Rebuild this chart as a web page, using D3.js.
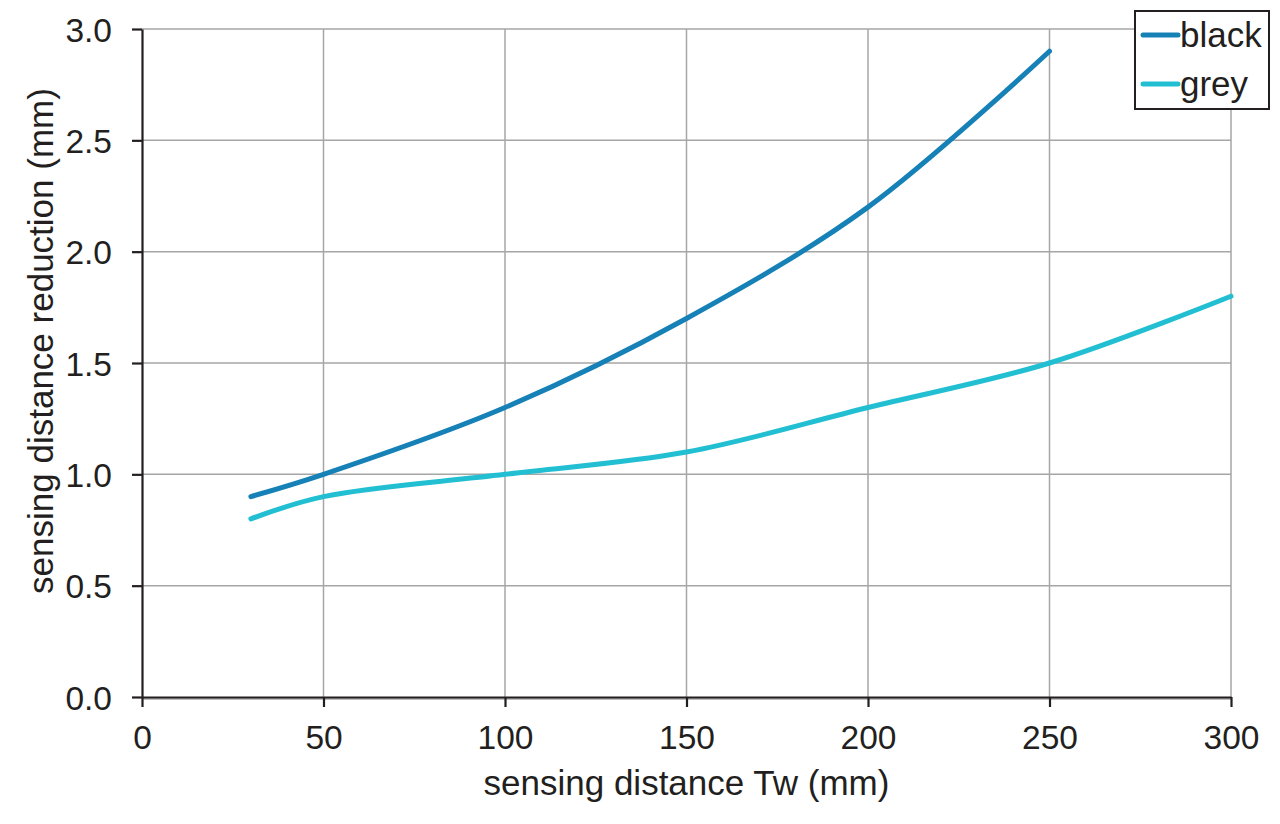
<!DOCTYPE html>
<html><head><meta charset="utf-8">
<script src="https://cdn.jsdelivr.net/npm/d3@7"></script>
<style>body{margin:0;background:#fff}svg{display:block}text{font-family:"Liberation Sans",Arial,sans-serif;fill:#231f20}</style>
</head><body><svg id="c" width="1280" height="824"></svg>
<script>
const xTicks = [0, 50, 100, 150, 200, 250, 300];
const yTicks = [0, 0.5, 1.0, 1.5, 2.0, 2.5, 3.0];
const seriesNames = ["black", "grey"];
const blackX = [30, 50, 100, 150, 200, 250];
const blackY = [0.9, 1.0, 1.3, 1.7, 2.2, 2.9];
const greyX = [30, 50, 100, 150, 200, 250, 300];
const greyY = [0.8, 0.9, 1.0, 1.1, 1.3, 1.5, 1.8];
const colors = ["#1681b6", "#22bfd3"];

const svg = d3.select("#c");
const L = 142, R = 1231, T = 29, B = 697;
const x = d3.scaleLinear().domain([0, 300]).range([L, R]);
const y = d3.scaleLinear().domain([0, 3]).range([B, T]);
const fs = 33.5;

// grid
svg.append("g").selectAll("line").data(xTicks.slice(1)).join("line")
  .attr("x1", d => x(d)).attr("x2", d => x(d)).attr("y1", T).attr("y2", B)
  .attr("stroke", "#a6a6a6").attr("stroke-width", 1.5);
svg.append("g").selectAll("line").data(yTicks).join("line")
  .attr("x1", L).attr("x2", R).attr("y1", d => y(d) + (d === 0 ? 2 : 0)).attr("y2", d => y(d) + (d === 0 ? 2 : 0))
  .attr("stroke", "#a6a6a6").attr("stroke-width", 1.5);

// axes
const xAxis = svg.append("g").attr("transform", `translate(0,${B})`)
  .call(d3.axisBottom(x).tickValues(xTicks).tickSize(10).tickPadding(12).tickSizeOuter(0));
const yAxis = svg.append("g").attr("transform", `translate(${L},0)`)
  .call(d3.axisLeft(y).tickValues(yTicks).tickSize(10).tickPadding(20).tickFormat(d3.format(".1f")).tickSizeOuter(0));
[xAxis, yAxis].forEach(g => {
  g.select(".domain").attr("stroke", "#231f20").attr("stroke-width", 2.2);
  g.selectAll(".tick line").attr("stroke", "#231f20").attr("stroke-width", 2.2);
  g.selectAll(".tick text").attr("font-size", fs).attr("font-family", "Liberation Sans, Arial, sans-serif").attr("fill", "#231f20");
});
xAxis.selectAll(".tick text").attr("dy", null).attr("y", 52).attr("dominant-baseline", "auto");
yAxis.selectAll(".tick text").attr("dy", "0.36em");

// titles
svg.append("text").attr("x", (L + R) / 2).attr("y", 795).attr("text-anchor", "middle")
  .attr("font-size", 35).text("sensing distance Tw (mm)");
svg.append("text").attr("transform", `translate(53,${(T + B) / 2 - 22}) rotate(-90)`).attr("text-anchor", "middle")
  .attr("font-size", 35).text("sensing distance reduction (mm)");

// lines
const line = d3.line().x(d => x(d[0])).y(d => y(d[1])).curve(d3.curveCatmullRom.alpha(0.5));
const data = [d3.zip(blackX, blackY), d3.zip(greyX, greyY)];
svg.append("g").selectAll("path").data(data).join("path")
  .attr("d", line).attr("fill", "none").attr("stroke", (d, i) => colors[i])
  .attr("stroke-width", 5).attr("stroke-linecap", "round");

// legend
const lg = svg.append("g");
lg.append("rect").attr("x", 1135).attr("y", 11).attr("width", 134).attr("height", 98)
  .attr("fill", "#fff").attr("stroke", "#231f20").attr("stroke-width", 2);
const items = lg.selectAll("g.item").data(seriesNames).join("g").attr("class", "item")
  .attr("transform", (d, i) => `translate(0,${35 + i * 49})`);
items.append("line").attr("x1", 1143).attr("x2", 1178).attr("y1", 0).attr("y2", 0)
  .attr("stroke", (d, i) => colors[i]).attr("stroke-width", 5).attr("stroke-linecap", "round");
items.append("text").attr("x", 1180).attr("y", 12).attr("font-size", 35).text(d => d);
</script></body></html>
